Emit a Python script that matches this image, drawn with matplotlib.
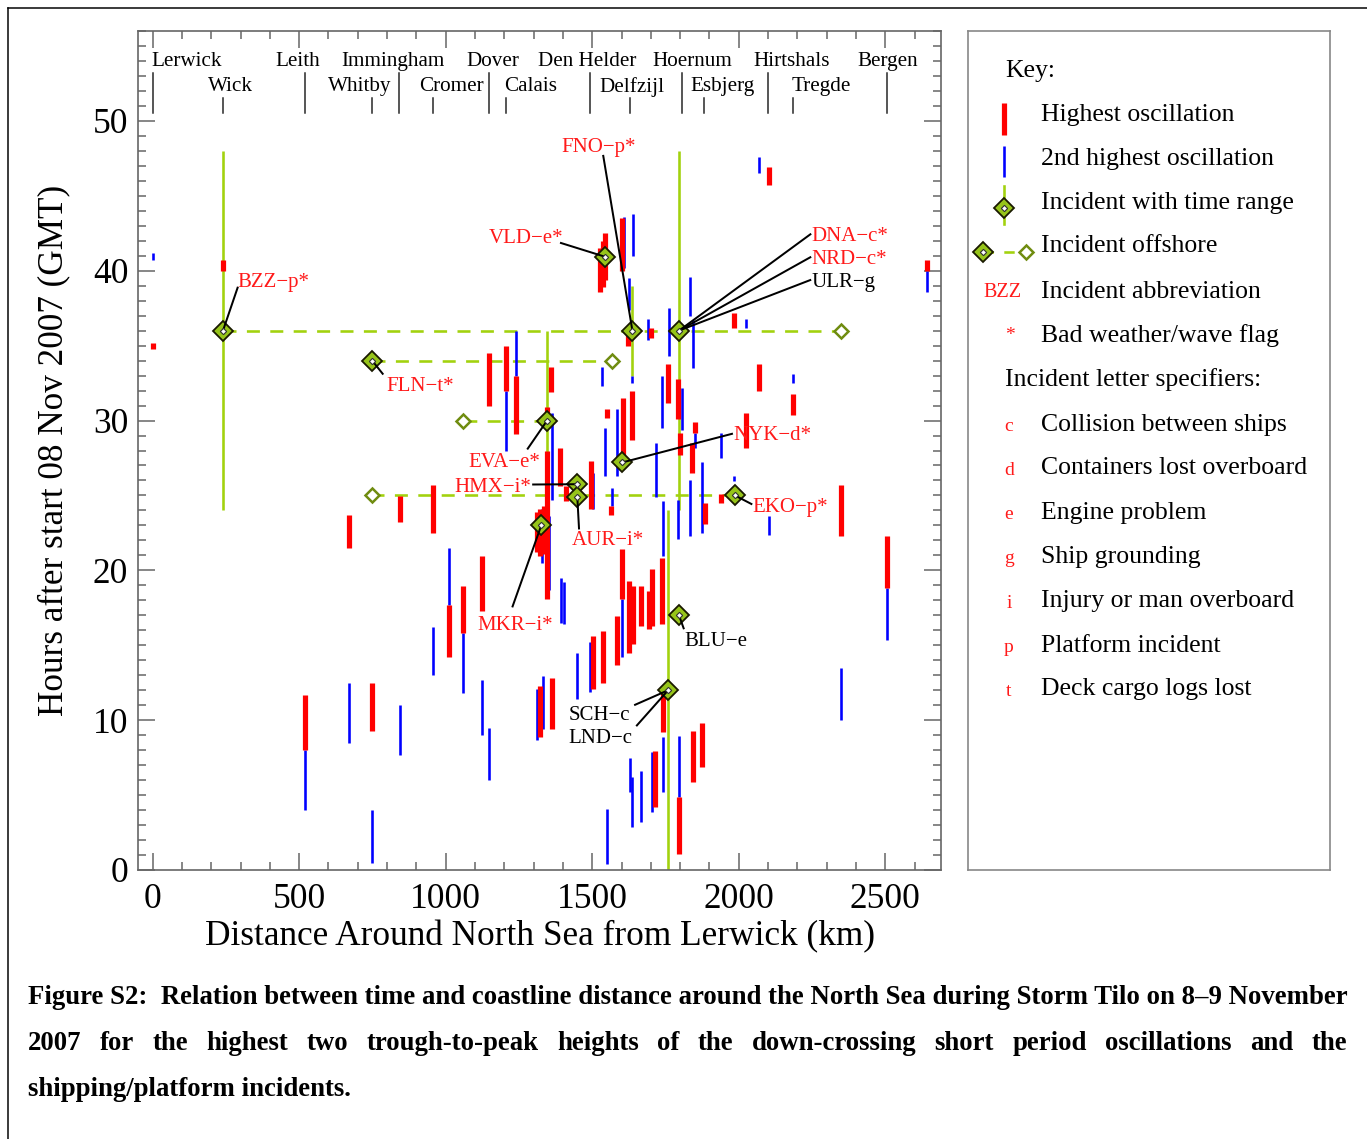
import matplotlib
matplotlib.use('Agg')
import matplotlib.pyplot as plt
from matplotlib.lines import Line2D
from matplotlib.ticker import MultipleLocator

plt.rcParams['font.family'] = ['Liberation Serif', 'DejaVu Serif']

W, H, DPI = 1367, 1139, 100

# ---------------- data ----------------
# Highest oscillation (red): distance km, start hour, end hour
red_x = [0, 240, 520, 671, 750, 844, 958, 1011, 1058, 1123, 1149, 1205, 1239,
         1311, 1322, 1336, 1346, 1345, 1322, 1362, 1359, 1390, 1412, 1495, 1504,
         1528, 1536, 1544, 1538, 1551, 1563, 1585, 1600, 1600, 1606, 1622, 1626,
         1637, 1640, 1667, 1692, 1700, 1704, 1714, 1737, 1743, 1759, 1794, 1796,
         1800, 1839, 1845, 1851, 1873, 1884, 1940, 1984, 2024, 2069, 2104, 2186,
         2349, 2505, 2641]
red_lo = [34.8, 40.0, 8.0, 21.5, 9.25, 23.25, 22.5, 14.25, 15.8, 17.3, 31.0, 32.0, 29.1,
          21.2, 20.95, 21.07, 18.07, 30.07, 8.9, 9.4, 31.9, 25.6, 24.6, 24.07, 12.07,
          38.6, 38.9, 39.4, 12.5, 30.2, 23.7, 13.7, 40.0, 18.07, 27.3, 35.0, 14.5,
          28.7, 15.07, 16.3, 16.07, 35.5, 16.3, 4.2, 16.4, 9.2, 31.2, 30.07, 1.07,
          27.7, 26.5, 5.85, 29.2, 6.85, 23.07, 24.5, 36.2, 28.2, 32.0, 45.7, 30.4,
          22.3, 18.85, 40.0]
red_hi = [35.2, 40.7, 11.7, 23.7, 12.5, 24.95, 25.7, 17.7, 18.95, 20.95, 34.5, 34.95, 33.0,
          23.9, 24.07, 24.3, 27.95, 30.9, 12.3, 12.8, 33.6, 28.2, 25.6, 27.3, 15.6,
          41.5, 42.0, 42.5, 15.95, 30.8, 24.3, 16.95, 43.5, 21.4, 31.5, 36.0, 19.3,
          31.95, 18.95, 18.95, 18.6, 36.2, 20.1, 7.95, 20.8, 12.07, 33.8, 32.8, 4.87,
          29.2, 28.5, 9.3, 29.9, 9.8, 24.5, 25.1, 37.2, 30.5, 33.8, 46.9, 31.8,
          25.7, 22.3, 40.7]

# 2nd highest oscillation (blue)
blue_x = [0, 520, 671, 750, 844, 958, 1011, 1058, 1125, 1149, 1205, 1239, 1311,
          1328, 1331, 1353, 1362, 1392, 1405, 1447, 1493, 1504, 1532, 1544, 1551,
          1566, 1583, 1600, 1608, 1627, 1630, 1635, 1637, 1638, 1667, 1690, 1705,
          1718, 1737, 1740, 1743, 1761, 1794, 1796, 1807, 1834, 1835, 1845, 1851,
          1876, 1940, 1984, 2025, 2070, 2104, 2186, 2349, 2505, 2641]
blue_lo = [40.7, 4.0, 8.47, 0.5, 7.7, 13.0, 17.7, 11.8, 9.0, 6.0, 28.0, 33.0, 8.7,
           20.5, 9.4, 18.7, 24.7, 16.5, 16.4, 11.4, 11.85, 24.07, 32.3, 26.3, 0.4,
           24.3, 26.3, 14.2, 40.2, 37.4, 5.2, 32.5, 2.87, 41.0, 3.2, 35.4, 3.87,
           24.9, 29.5, 5.2, 20.95, 34.3, 22.07, 4.87, 29.4, 22.3, 37.0, 33.5, 28.2,
           22.5, 27.5, 25.95, 36.15, 46.5, 22.35, 32.5, 10.0, 15.35, 38.6]
blue_hi = [41.2, 8.0, 12.5, 4.0, 11.0, 16.25, 21.5, 15.8, 12.7, 9.5, 32.0, 36.0, 12.1,
           24.07, 12.95, 23.6, 30.5, 19.5, 19.2, 14.5, 15.2, 26.5, 33.6, 29.5, 4.07,
           25.5, 30.8, 18.07, 43.6, 39.5, 7.5, 32.95, 6.2, 43.8, 6.6, 36.8, 7.9,
           28.5, 32.95, 8.87, 24.6, 37.5, 24.7, 8.95, 32.2, 26.0, 39.6, 36.7, 29.2,
           27.2, 29.2, 26.3, 36.8, 47.6, 23.6, 33.1, 13.5, 18.85, 40.0]

# Ports along the coast (top of chart)
ports_row1 = ['Lerwick', 'Leith', 'Immingham', 'Dover', 'Den Helder', 'Hoernum', 'Hirtshals', 'Bergen']
ports_row1_km = [0, 520, 841, 1148, 1493, 1807, 2100, 2506]
ports_row1_label_km = [117, 496, 820, 1162, 1482, 1840, 2182, 2509]
ports_row2 = ['Wick', 'Whitby', 'Cromer', 'Calais', 'Delfzijl', 'Esbjerg', 'Tregde']
ports_row2_km = [240, 749, 957, 1204, 1630, 1882, 2185]
ports_row2_label_km = [267, 708, 1018, 1291, 1636, 1943, 2281]

# Incidents (filled diamonds)
inc_names = ['BZZ', 'FLN', 'EVA', 'HMX', 'AUR', 'MKR', 'VLD', 'FNO', 'DNA', 'NYK', 'EKO', 'BLU', 'SCH']
inc_x = [240, 749, 1346, 1449, 1449, 1326, 1544, 1637, 1796, 1602, 1987, 1796, 1759]
inc_y = [36, 34, 30, 25.75, 24.9, 23.0, 40.93, 36, 36, 27.2, 25.0, 17.0, 12.0]

# Incidents with time range (vertical green lines)
range_x = [240, 1346, 1637, 1796, 1759]
range_lo = [24, 24, 33, 24, 0]
range_hi = [48, 36, 39, 48, 24]

# Offshore incidents (dashed green line to open diamond)
off_from_x = [240, 749, 1346, 1987]
off_to_x = [2350, 1566, 1060, 749]
off_y = [36, 34, 30, 25]

# Incident labels
lab_text = ['BZZ\u2212p*', 'FLN\u2212t*', 'EVA\u2212e*', 'HMX\u2212i*', 'AUR\u2212i*', 'MKR\u2212i*',
            'VLD\u2212e*', 'FNO\u2212p*', 'DNA\u2212c*', 'NRD\u2212c*', 'ULR\u2212g', 'NYK\u2212d*',
            'EKO\u2212p*', 'BLU\u2212e', 'SCH\u2212c', 'LND\u2212c']
lab_target = ['BZZ', 'FLN', 'EVA', 'HMX', 'AUR', 'MKR', 'VLD', 'FNO', 'DNA', 'DNA', 'DNA',
              'NYK', 'EKO', 'BLU', 'SCH', 'SCH']
lab_x = [288, 796, 1322, 1291, 1431, 1107, 1401, 1523, 2247, 2247, 2247, 1980, 2046, 1813, 1418, 1418]
lab_y = [39.4, 32.47, 27.4, 25.73, 22.2, 16.47, 42.33, 48.4, 42.47, 40.93, 39.4, 29.2, 24.4, 15.4, 10.47, 8.93]
lab_ha = ['left', 'left', 'right', 'right', 'left', 'left', 'right', 'center', 'left', 'left', 'left',
          'left', 'left', 'left', 'left', 'left']
lab_red = [True, True, True, True, True, True, True, True, True, True, False, True, True, False, False, False]
ptr_x = [291, 787, 1278, 1295, 1455, 1227, 1390, 1537, 2247, 2247, 2247, 1980, 2046, 1813, 1643, 1650]
ptr_y = [38.93, 33.07, 28.07, 25.73, 22.73, 17.53, 41.87, 47.73, 42.47, 40.93, 39.4, 29.13, 24.4, 16.07, 11.0, 9.6]

# Key
key_items = ['Highest oscillation', '2nd highest oscillation', 'Incident with time range',
             'Incident offshore', 'Incident abbreviation', 'Bad weather/wave flag']
spec_letters = ['c', 'd', 'e', 'g', 'i', 'p', 't']
spec_desc = ['Collision between ships', 'Containers lost overboard', 'Engine problem',
             'Ship grounding', 'Injury or man overboard', 'Platform incident', 'Deck cargo logs lost']

caption1 = 'Figure S2:  Relation between time and coastline distance around the North Sea during Storm Tilo on 8\u20139 November'
caption2 = '2007 for the highest two trough-to-peak heights of the down-crossing short period oscillations and the'
caption3 = 'shipping/platform incidents.'

# ---------------- style ----------------
RED = '#ff0000'
BLUE = '#0000ff'
LABRED = '#ff1a1a'
GREEN = '#a2d20e'
DFILL = '#96c41a'
DOPEN = '#6f8c10'
AXC = '#666666'
PX = 72.0 / DPI  # points per pixel
TDY = -0.18      # small vertical text nudge (hours)

fig = plt.figure(figsize=(W / DPI, H / DPI), dpi=DPI)

ax = fig.add_axes([138 / W, 1 - 870 / H, (941 - 138) / W, (870 - 31) / H])
ax.set_xlim(-50, 2690)
ax.set_ylim(0, 56)

# time ranges
ax.vlines(range_x, range_lo, range_hi, colors=GREEN, lw=2.6 * PX, zorder=2)
# offshore dashed lines
for x0, x1, y in zip(off_from_x, off_to_x, off_y):
    ax.plot([x0, x1], [y, y], color=GREEN, lw=2.6 * PX, dashes=(5, 4), zorder=2)

# oscillation bars
ax.vlines(blue_x, blue_lo, blue_hi, colors=BLUE, lw=2.6 * PX, zorder=3)
ax.vlines(red_x, red_lo, red_hi, colors=RED, lw=5.2 * PX, zorder=3.1)

ax.plot(off_to_x, off_y, ls='none', marker='D', ms=7.2, mfc='white', mec=DOPEN, mew=1.8, zorder=4)

# filled diamonds
ax.plot(inc_x, inc_y, ls='none', marker='D', ms=9.8, mfc=DFILL, mec='#1a1a00', mew=1.3, zorder=5)
ax.plot(inc_x, inc_y, ls='none', marker='D', ms=3.2, mfc='white', mec='#333333', mew=0.8, zorder=6)

# labels and pointers
for t, tg, x, y, ha, isred, px_, py_ in zip(lab_text, lab_target, lab_x, lab_y, lab_ha, lab_red, ptr_x, ptr_y):
    i = inc_names.index(tg)
    ax.plot([px_, inc_x[i]], [py_, inc_y[i]], color='black', lw=2.0 * PX, zorder=5.5, solid_capstyle='butt')
    ax.text(x, y + TDY, t, ha=ha, va='center', fontsize=15, color=LABRED if isred else 'black', zorder=7)

# ports
for name, km, lkm in zip(ports_row1, ports_row1_km, ports_row1_label_km):
    ax.text(lkm, 54.13 + TDY, name, ha='center', va='center', fontsize=15.2, color='black')
    ax.plot([km, km], [50.53, 53.2], color='#222222', lw=1.5 * PX)
for name, km, lkm in zip(ports_row2, ports_row2_km, ports_row2_label_km):
    ax.text(lkm, 52.47 + TDY, name, ha='center', va='center', fontsize=15.2, color='black')
    ax.plot([km, km], [50.53, 51.53], color='#222222', lw=1.5 * PX)

# axes styling
ax.xaxis.set_major_locator(MultipleLocator(500))
ax.xaxis.set_minor_locator(MultipleLocator(100))
ax.yaxis.set_major_locator(MultipleLocator(10))
ax.yaxis.set_minor_locator(MultipleLocator(1))
ax.tick_params(which='both', direction='in', top=True, right=True, color=AXC, width=1.1)
ax.tick_params(which='major', length=12, labelsize=25.5, pad=7)
ax.tick_params(which='minor', length=5.5)
ax.tick_params(axis='x', which='major', pad=9)
for s in ax.spines.values():
    s.set_color(AXC)
    s.set_linewidth(1.2)
ax.set_xlabel('Distance Around North Sea from Lerwick (km)', fontsize=25.4, va='center')
ax.xaxis.set_label_coords(0.5005, -0.0799)
ax.set_ylabel('Hours after start 08 Nov 2007 (GMT)', fontsize=25.3, va='center', ha='center')
ax.yaxis.set_label_coords(-0.105, 0.50)

# ---------------- key ----------------
kx = fig.add_axes([968 / W, 1 - 870 / H, (1330 - 968) / W, (870 - 31) / H])
kx.set_xlim(968, 1330)
kx.set_ylim(870, 31)
kx.set_xticks([])
kx.set_yticks([])
for s in kx.spines.values():
    s.set_color('#888888')
    s.set_linewidth(1.2)

KFS = 18.5
KDY = 2.5
kx.text(1005, 68 + KDY, 'Key:', fontsize=KFS, va='center', ha='left')
rows_y = [112, 156, 200, 244, 289, 333]
for txt, yy in zip(key_items, rows_y):
    kx.text(1041, yy + KDY, txt, fontsize=KFS, va='center', ha='left')
kx.plot([1004, 1004], [103, 135], color=RED, lw=5.2 * PX, solid_capstyle='butt')
kx.plot([1004, 1004], [146, 177], color=BLUE, lw=2.6 * PX, solid_capstyle='butt')
kx.plot([1004, 1004], [186, 224], color=GREEN, lw=2.6 * PX)
kx.plot([1004], [208], marker='D', ms=9.8, mfc=DFILL, mec='#1a1a00', mew=1.3)
kx.plot([1004], [208], marker='D', ms=3.2, mfc='white', mec='#333333', mew=0.8)
kx.plot([983, 1026], [252, 252], color=GREEN, lw=2.6 * PX, dashes=(4, 4))
kx.plot([983], [252], marker='D', ms=9.8, mfc=DFILL, mec='#1a1a00', mew=1.3)
kx.plot([983], [252], marker='D', ms=3.2, mfc='white', mec='#333333', mew=0.8)
kx.plot([1026], [252], marker='D', ms=7.2, mfc='white', mec=DOPEN, mew=1.8)
kx.text(1003, 290 + KDY, 'BZZ', fontsize=14.5, color=LABRED, ha='center', va='center')
kx.text(1010, 333 + KDY, '*', fontsize=14, color=LABRED, ha='center', va='center')
kx.text(1005, 377 + KDY, 'Incident letter specifiers:', fontsize=KFS, va='center', ha='left')
spec_y = [422, 466, 510, 554, 599, 643, 687]
for L, d, yy in zip(spec_letters, spec_desc, spec_y):
    kx.text(1009, yy + 2 + KDY, L, fontsize=14, color=LABRED, ha='center', va='center')
    kx.text(1041, yy + KDY, d, fontsize=KFS, va='center', ha='left')

# ---------------- caption ----------------
renderer = fig.canvas.get_renderer()


def twidth(s, fs):
    t = fig.text(0, 0, s, fontsize=fs, fontweight='bold')
    w = t.get_window_extent(renderer).width
    t.remove()
    return w


left_px, right_px = 28, 1347
cfs = 20 * (right_px - left_px) / twidth(caption1, 20)
fig.text(left_px / W, 1 - 997 / H, caption1, fontsize=cfs, fontweight='bold', va='center', ha='left')
words = caption2.split(' ')
ww = [twidth(w_, cfs) for w_ in words]
gap = (right_px - left_px - sum(ww)) / (len(words) - 1)
xx = left_px
for w_, wd in zip(words, ww):
    fig.text(xx / W, 1 - 1043 / H, w_, fontsize=cfs, fontweight='bold', va='center', ha='left')
    xx += wd + gap
fig.text(left_px / W, 1 - 1089 / H, caption3, fontsize=cfs, fontweight='bold', va='center', ha='left')

# page frame lines
fig.add_artist(Line2D([8 / W, 8 / W], [0, 1 - 8 / H], transform=fig.transFigure, color='black', lw=1.5 * PX))
fig.add_artist(Line2D([8 / W, 1], [1 - 8 / H, 1 - 8 / H], transform=fig.transFigure, color='black', lw=1.5 * PX))

fig.savefig('out.png', dpi=DPI)
